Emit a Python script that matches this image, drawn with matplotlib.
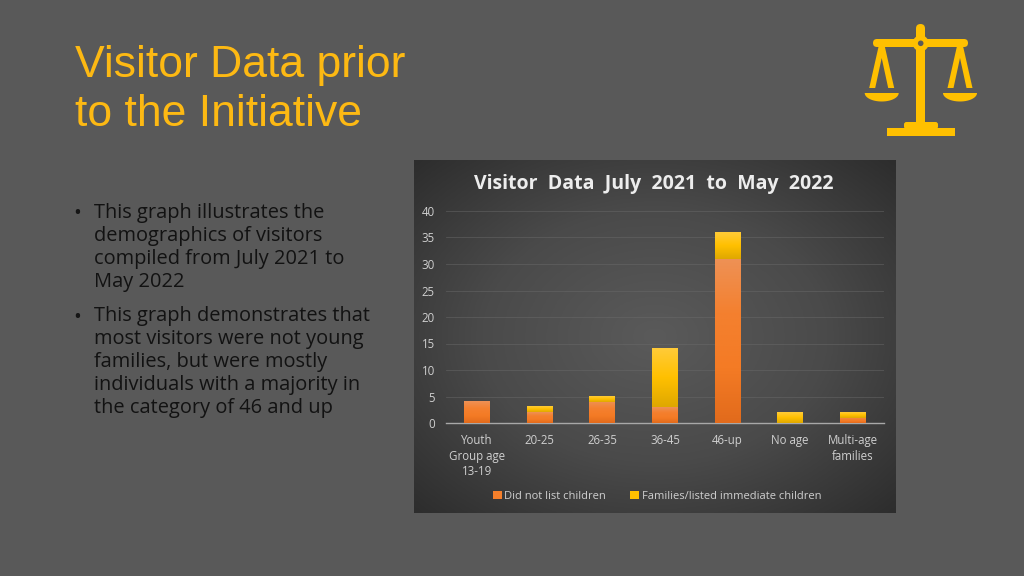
import numpy as np
import matplotlib
matplotlib.use("Agg")
import matplotlib.pyplot as plt
from matplotlib.colors import LinearSegmentedColormap
from matplotlib.patches import Polygon, Rectangle, FancyBboxPatch, Circle

categories = ["Youth\nGroup age\n13-19", "20-25", "26-35", "36-45", "46-up", "No age", "Multi-age\nfamilies"]
did_not_list = [4, 2, 4, 3, 31, 0, 1]
families = [0, 1, 1, 11, 5, 2, 1]
series_names = ["Did not list children", "Families/listed immediate children"]
yticks = [0, 5, 10, 15, 20, 25, 30, 35, 40]
slide_title = ["Visitor Data prior", "to the Initiative"]
chart_title = "Visitor  Data  July  2021  to  May  2022"
bullets = [
    ["This graph illustrates the", "demographics of visitors", "compiled from July 2021 to", "May 2022"],
    ["This graph demonstrates that", "most visitors were not young", "families, but were mostly", "individuals with a majority in", "the category of 46 and up"],
]

W, H = 1024, 576
BG = "#595959"
GOLD = "#FFC000"
fig = plt.figure(figsize=(W / 100, H / 100), dpi=100, facecolor=BG)

# page overlay in pixel coordinates
pg = fig.add_axes([0, 0, 1, 1], zorder=0)
pg.axis("off")

# chart panel with radial gradient
L, R, T, B = 414, 896, 160, 513
yy, xx = np.mgrid[0:1:200j, 0:1:280j]
d = np.clip(np.sqrt(((xx - .5) / .72) ** 2 + ((yy - .5) / .72) ** 2), 0, 1)
panel_cmap = LinearSegmentedColormap.from_list("p", ["#5a5a5a", "#4a4a4a", "#2c2c2c"])
pg.imshow(d, extent=(L, R, B, T), cmap=panel_cmap, vmin=0, vmax=1, aspect="auto", interpolation="bilinear")
pg.set_xlim(0, W); pg.set_ylim(H, 0)

# slide title
for i, t in enumerate(slide_title):
    pg.text(75, 65 + i * 50, t, color="#FDB913", fontsize=32, family="Liberation Sans", va="center", ha="left")

# bullets
y = 213
for para in bullets:
    pg.text(77.5, y + 1, "•", color="#161616", fontsize=15, family="Open Sans", va="center", ha="center")
    for line in para:
        pg.text(94, y, line, color="#121212", fontsize=14.4, family="Open Sans", va="center", ha="left")
        y += 23
    y += 11

# scales icon
ic = GOLD
pg.add_patch(FancyBboxPatch((873, 39), 95, 8, boxstyle="round,pad=0,rounding_size=4", fc=ic, ec="none"))
pg.add_patch(FancyBboxPatch((916, 24), 9, 30, boxstyle="round,pad=0,rounding_size=4.5", fc=ic, ec="none"))
pg.add_patch(Rectangle((916, 44), 9, 80, fc=ic, ec="none"))
pg.add_patch(Circle((920.7, 43.3), 8, fc=ic, ec="none"))
pg.add_patch(Circle((920.7, 43.3), 2.8, fc=BG, ec="none"))
t_arc = np.linspace(0, np.pi, 40)
for cx in (881.7, 960.0):
    pg.add_patch(Polygon([(cx - 3, 46), (cx + 3, 46), (cx + 12.5, 88), (cx + 6.5, 88), (cx, 58), (cx - 6.5, 88), (cx - 12.5, 88)], fc=ic, ec="none"))
    pg.add_patch(Polygon(np.c_[cx + 17 * np.cos(t_arc), 93 + 8.5 * np.sin(t_arc)], fc=ic, ec="none"))
pg.add_patch(FancyBboxPatch((904, 122), 34, 7, boxstyle="round,pad=0,rounding_size=2.5", fc=ic, ec="none"))
pg.add_patch(Rectangle((887, 128), 68, 8, fc=ic, ec="none"))

# chart axes
ax = fig.add_axes([446 / W, 1 - 423 / H, (884 - 446) / W, (423 - 211) / H], zorder=1)
ax.patch.set_alpha(0)
x = np.arange(len(categories))
orange = LinearSegmentedColormap.from_list("o", ["#EE9155", "#F4802F", "#F47B25", "#E26B1C"])
yellow = LinearSegmentedColormap.from_list("y", ["#FFCB38", "#FFC000", "#DFA800"])
b1 = ax.bar(x, did_not_list, width=0.415, color="#F47F2B", zorder=2)
b2 = ax.bar(x, families, width=0.415, bottom=did_not_list, color=GOLD, zorder=2)
grad = np.linspace(0, 1, 64).reshape(-1, 1)
for bars, cm in ((b1, orange), (b2, yellow)):
    for r in bars:
        if r.get_height() <= 0:
            continue
        ax.imshow(grad, extent=(r.get_x(), r.get_x() + r.get_width(), r.get_y(), r.get_y() + r.get_height()),
                  cmap=cm, aspect="auto", origin="upper", zorder=3)
ax.set_xlim(-0.5, len(categories) - 0.5)
ax.set_ylim(0, 40)
ax.set_yticks(yticks)
ax.set_xticks(x)
ax.set_xticklabels(categories, linespacing=1.25)
ax.tick_params(length=0, labelsize=8.3, labelcolor="#CFCFCF", pad=8)
ax.tick_params(axis="y", pad=8)
for lab in ax.get_xticklabels() + ax.get_yticklabels():
    lab.set_family("Open Sans")
ax.grid(axis="y", color="#6b6b6b", lw=0.6, zorder=1, alpha=.55)
ax.set_axisbelow(True)
for s in ("top", "left", "right"):
    ax.spines[s].set_visible(False)
ax.spines["bottom"].set_color("#A8A8A8")
ax.spines["bottom"].set_linewidth(1.0)

pg.text(654, 184, chart_title, color="#EDEDED", fontsize=14, fontweight="bold", family="Open Sans", ha="center", va="center")

handles = [Rectangle((0, 0), 1, 1, fc="#F47F2B", ec="none"), Rectangle((0, 0), 1, 1, fc=GOLD, ec="none")]
fig.legend(handles, series_names, loc="center", bbox_to_anchor=(657 / W, 1 - 496.5 / H), ncol=2, frameon=False,
           labelcolor="#CFCFCF", prop={"family": "Open Sans", "size": 8.05},
           handlelength=0.8, handleheight=0.8, handletextpad=0.2, columnspacing=2.2)

fig.savefig("out.png", dpi=100, facecolor=BG)
